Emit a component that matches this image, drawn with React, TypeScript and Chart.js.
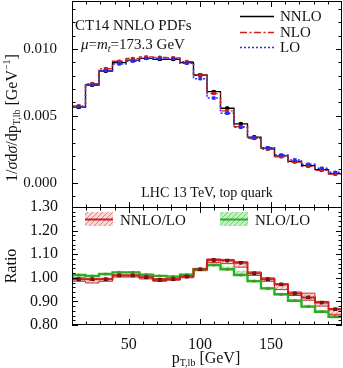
import React, { useEffect, useRef } from 'react';
import { Chart, registerables } from 'chart.js';
Chart.register(...registerables);

// ---------- data ----------
const binEdges = [10, 19.5, 29, 38.5, 48, 57.5, 67, 76.5, 86, 95.5, 105, 114.5, 124, 133.5, 143, 152.5, 162, 171.5, 181, 190.5, 200];
const nnlo = [0.00565, 0.00731, 0.00836, 0.00898, 0.00918, 0.00931, 0.00923, 0.00923, 0.00898, 0.00806, 0.00681, 0.00557, 0.0044, 0.00341, 0.00259, 0.00201, 0.00159, 0.00127, 0.00097, 0.00067];
const nlo = [0.00575, 0.00741, 0.00854, 0.00909, 0.0093, 0.00941, 0.00938, 0.00934, 0.00906, 0.00806, 0.00667, 0.00538, 0.00419, 0.0033, 0.00249, 0.00193, 0.00154, 0.00121, 0.00092, 0.00064];
const lo = [0.00568, 0.00735, 0.00841, 0.00889, 0.00909, 0.00929, 0.00931, 0.00929, 0.00894, 0.00778, 0.00633, 0.00519, 0.00414, 0.00335, 0.00261, 0.00207, 0.0017, 0.00138, 0.00108, 0.00077];
const ratioNNLO = [0.994, 0.994, 0.994, 1.01, 1.01, 1.002, 0.991, 0.994, 1.005, 1.036, 1.075, 1.073, 1.064, 1.019, 0.994, 0.972, 0.934, 0.917, 0.895, 0.867];
const ratioNNLOLow = [0.985, 0.978, 0.985, 1.003, 1.003, 0.995, 0.985, 0.99, 1.0, 1.03, 1.065, 1.06, 1.045, 1.01, 0.985, 0.95, 0.925, 0.905, 0.88, 0.845];
const ratioNNLOHigh = [1.0, 0.998, 0.998, 1.012, 1.012, 1.008, 0.997, 0.998, 1.01, 1.04, 1.08, 1.078, 1.068, 1.025, 1.0, 0.975, 0.94, 0.935, 0.9, 0.87];
const ratioNLO = [1.012, 1.008, 1.016, 1.023, 1.023, 1.013, 1.008, 1.005, 1.013, 1.036, 1.054, 1.036, 1.012, 0.986, 0.955, 0.93, 0.903, 0.878, 0.856, 0.835];
const ratioNLOLow = [1.005, 1.003, 1.01, 1.018, 1.018, 1.008, 1.003, 1.0, 1.008, 1.03, 1.048, 1.032, 1.008, 0.98, 0.95, 0.924, 0.897, 0.872, 0.85, 0.828];
const ratioNLOHigh = [1.016, 1.012, 1.02, 1.028, 1.028, 1.018, 1.012, 1.01, 1.018, 1.042, 1.062, 1.048, 1.03, 0.992, 0.962, 0.936, 0.91, 0.886, 0.864, 0.842];
const topYTicks = [0, 0.005, 0.01];
const ratioYTicks = [0.8, 0.9, 1.0, 1.1, 1.2, 1.3];
const xTicks = [50, 100, 150];
const xMinorTicks = [20, 30, 40, 60, 70, 80, 90, 110, 120, 130, 140, 160, 170, 180, 190];
const topYMinor = [-0.001, 0.001, 0.002, 0.003, 0.004, 0.006, 0.007, 0.008, 0.009, 0.011, 0.012, 0.013];
const ratioYMinor = [0.82, 0.84, 0.86, 0.88, 0.92, 0.94, 0.96, 0.98, 1.02, 1.04, 1.06, 1.08, 1.12, 1.14, 1.16, 1.18, 1.22, 1.24, 1.26, 1.28];

const SERIF = '"Liberation Serif", "DejaVu Serif", serif';
const RED = '#cc2020';
const GREEN = '#22b422';
const BLUE = '#2a2aff';

function steps(vals: number[]) {
  return binEdges.map((e, i) => ({ x: e, y: vals[Math.min(i, vals.length - 1)] }));
}

type Seg = { t: string; it?: boolean; size?: number; dy?: number };
function drawRich(ctx: CanvasRenderingContext2D, x: number, y: number, segs: Seg[], base: number, align: 'left' | 'center') {
  const widths = segs.map((s) => {
    ctx.font = `${s.it ? 'italic ' : ''}${s.size || base}px ${SERIF}`;
    return ctx.measureText(s.t).width;
  });
  const total = widths.reduce((a, b) => a + b, 0);
  let cx = align === 'center' ? x - total / 2 : x;
  ctx.textAlign = 'left';
  ctx.textBaseline = 'alphabetic';
  segs.forEach((s, i) => {
    ctx.font = `${s.it ? 'italic ' : ''}${s.size || base}px ${SERIF}`;
    ctx.fillText(s.t, cx, y + (s.dy || 0));
    cx += widths[i];
  });
}

function drawFrameTicks(chart: any, yMajor: number[], yMinor: number[]) {
  const { ctx, chartArea: a, scales } = chart;
  const xs = scales.x, ys = scales.y;
  ctx.save();
  ctx.strokeStyle = '#000';
  ctx.lineWidth = 1;
  ctx.strokeRect(a.left + 0.5, a.top + 0.5, a.right - a.left - 1, a.bottom - a.top - 1);
  ctx.beginPath();
  const xt = (v: number, len: number) => {
    const px = Math.round(xs.getPixelForValue(v)) + 0.5;
    ctx.moveTo(px, a.bottom); ctx.lineTo(px, a.bottom - len);
    ctx.moveTo(px, a.top); ctx.lineTo(px, a.top + len);
  };
  const yt = (v: number, len: number) => {
    const py = Math.round(ys.getPixelForValue(v)) + 0.5;
    ctx.moveTo(a.left, py); ctx.lineTo(a.left + len, py);
    ctx.moveTo(a.right, py); ctx.lineTo(a.right - len, py);
  };
  xTicks.forEach((v) => xt(v, 6));
  xMinorTicks.forEach((v) => xt(v, 3.5));
  yMajor.forEach((v) => yt(v, 6));
  yMinor.forEach((v) => yt(v, 3.5));
  ctx.stroke();
  ctx.restore();
}

function drawMarkers(chart: any, vals: number[], err: number, color: string, barColor: string, r: number) {
  const { ctx, scales } = chart;
  const xs = scales.x, ys = scales.y;
  ctx.save();
  vals.forEach((v, i) => {
    const cx = xs.getPixelForValue((binEdges[i] + binEdges[i + 1]) / 2);
    const y0 = ys.getPixelForValue(v - err), y1 = ys.getPixelForValue(v + err), yc = ys.getPixelForValue(v);
    ctx.strokeStyle = barColor;
    ctx.lineWidth = 1;
    ctx.beginPath();
    ctx.moveTo(cx, y0); ctx.lineTo(cx, y1);
    ctx.moveTo(cx - 2, y0); ctx.lineTo(cx + 2, y0);
    ctx.moveTo(cx - 2, y1); ctx.lineTo(cx + 2, y1);
    ctx.stroke();
    ctx.fillStyle = color;
    ctx.beginPath();
    ctx.arc(cx, yc, r, 0, Math.PI * 2);
    ctx.fill();
  });
  ctx.restore();
}

function hatch(ctx: CanvasRenderingContext2D, color: string) {
  const c = document.createElement('canvas');
  c.width = 5; c.height = 5;
  const g = c.getContext('2d')!;
  g.strokeStyle = color;
  g.lineWidth = 1;
  g.beginPath();
  g.moveTo(0, 5); g.lineTo(5, 0);
  g.moveTo(-1, 1); g.lineTo(1, -1);
  g.moveTo(4, 6); g.lineTo(6, 4);
  g.stroke();
  return ctx.createPattern(c, 'repeat')!;
}

const topPlugin = {
  id: 'topDeco',
  afterDatasetsDraw(chart: any) {
    drawMarkers(chart, nnlo, 0.00008, '#000', '#000', 2);
    drawMarkers(chart, nlo, 0.00007, RED, RED, 1.8);
    drawMarkers(chart, lo, 0.00007, BLUE, BLUE, 1.8);
  },
  afterDraw(chart: any) {
    const ctx = chart.ctx as CanvasRenderingContext2D;
    drawFrameTicks(chart, topYTicks, topYMinor);
    ctx.save();
    ctx.fillStyle = '#111';
    drawRich(ctx, 75, 30, [{ t: 'CT14 NNLO PDFs' }], 15, 'left');
    drawRich(ctx, 81, 49, [{ t: 'μ', it: true }, { t: '=' }, { t: 'm', it: true }, { t: 't', it: true, size: 10, dy: 3 }, { t: '=173.3 GeV' }], 15, 'left');
    drawRich(ctx, 207, 197, [{ t: 'LHC 13 TeV, top quark' }], 14, 'center');
    // legend
    const items = [
      { y: 16, label: 'NNLO', color: '#000', dash: [] as number[], w: 1.4 },
      { y: 32, label: 'NLO', color: RED, dash: [7, 2.5, 2, 2.5], w: 1.4 },
      { y: 47, label: 'LO', color: BLUE, dash: [2, 2], w: 1.6 },
    ];
    items.forEach((it) => {
      ctx.strokeStyle = it.color;
      ctx.lineWidth = it.w;
      ctx.setLineDash(it.dash);
      ctx.beginPath();
      ctx.moveTo(240, it.y + 0.5); ctx.lineTo(274, it.y + 0.5);
      ctx.stroke();
      ctx.setLineDash([]);
      drawRich(ctx, 280, it.y + 5, [{ t: it.label }], 15, 'left');
    });
    // y title
    ctx.translate(17, 118);
    ctx.rotate(-Math.PI / 2);
    drawRich(ctx, 0, 0, [
      { t: '1/' }, { t: 'σ', it: true }, { t: 'd' }, { t: 'σ', it: true }, { t: '/dp' },
      { t: 'T,lb', size: 10, dy: 3 }, { t: ' [GeV' }, { t: '−1', size: 10, dy: -7 }, { t: ']' },
    ], 16, 'center');
    ctx.restore();
  },
};

const botPlugin = {
  id: 'botDeco',
  beforeDatasetsDraw(chart: any) {
    const { ctx, chartArea: a, scales } = chart;
    const xs = scales.x, ys = scales.y;
    ctx.save();
    ctx.beginPath();
    ctx.rect(a.left, a.top, a.right - a.left, a.bottom - a.top);
    ctx.clip();
    const gHatch = hatch(ctx, 'rgba(60,190,60,0.55)');
    const rHatch = hatch(ctx, 'rgba(220,70,70,0.55)');
    for (let i = 0; i < ratioNLO.length; i++) {
      const x1 = xs.getPixelForValue(binEdges[i]), x2 = xs.getPixelForValue(binEdges[i + 1]);
      let y1 = ys.getPixelForValue(ratioNLOHigh[i]), y2 = ys.getPixelForValue(ratioNLOLow[i]);
      ctx.fillStyle = 'rgba(150,225,150,0.55)';
      ctx.fillRect(x1, y1, x2 - x1, y2 - y1);
      ctx.fillStyle = gHatch;
      ctx.fillRect(x1, y1, x2 - x1, y2 - y1);
      y1 = ys.getPixelForValue(ratioNNLOHigh[i]); y2 = ys.getPixelForValue(ratioNNLOLow[i]);
      ctx.fillStyle = 'rgba(240,170,170,0.45)';
      ctx.fillRect(x1, y1, x2 - x1, y2 - y1);
      ctx.fillStyle = rHatch;
      ctx.fillRect(x1, y1, x2 - x1, y2 - y1);
    }
    ctx.restore();
  },
  afterDatasetsDraw(chart: any) {
    drawMarkers(chart, ratioNLO, 0.002, '#5a8a2a', '#5a8a2a', 1.5);
    drawMarkers(chart, ratioNNLO, 0.005, '#8a1010', '#000', 1.8);
  },
  afterDraw(chart: any) {
    const ctx = chart.ctx as CanvasRenderingContext2D;
    drawFrameTicks(chart, ratioYTicks, ratioYMinor);
    ctx.save();
    // legend
    const leg = [
      { x: 85, label: 'NNLO/LO', color: RED, fill: 'rgba(240,170,170,0.45)', h: 'rgba(220,70,70,0.6)' },
      { x: 220, label: 'NLO/LO', color: GREEN, fill: 'rgba(150,225,150,0.55)', h: 'rgba(60,190,60,0.6)' },
    ];
    leg.forEach((l) => {
      ctx.fillStyle = l.fill;
      ctx.fillRect(l.x, 12, 28, 14);
      ctx.fillStyle = hatch(ctx, l.h);
      ctx.fillRect(l.x, 12, 28, 14);
      ctx.strokeStyle = l.color;
      ctx.lineWidth = 2;
      ctx.beginPath();
      ctx.moveTo(l.x, 19.5); ctx.lineTo(l.x + 28, 19.5);
      ctx.stroke();
      ctx.fillStyle = '#111';
      drawRich(ctx, l.x + 35, 25, [{ t: l.label }], 15, 'left');
    });
    ctx.fillStyle = '#111';
    drawRich(ctx, 206, 163, [{ t: 'p' }, { t: 'T,lb', size: 10, dy: 3 }, { t: ' [GeV]' }], 16, 'center');
    ctx.translate(16, 66);
    ctx.rotate(-Math.PI / 2);
    drawRich(ctx, 0, 0, [{ t: 'Ratio' }], 16, 'center');
    ctx.restore();
  },
};

export default function App() {
  const topRef = useRef<HTMLCanvasElement>(null);
  const botRef = useRef<HTMLCanvasElement>(null);
  useEffect(() => {
    const zeroPad = (s: any) => { s.paddingTop = 0; s.paddingBottom = 0; s.paddingLeft = 0; s.paddingRight = 0; };
    const top = new Chart(topRef.current!, {
      type: 'line',
      data: {
        datasets: [
          { label: 'NLO', data: steps(nlo), stepped: 'before', borderColor: RED, borderWidth: 1.3, borderDash: [7, 2.5, 2, 2.5], pointRadius: 0, fill: false },
          { label: 'LO', data: steps(lo), stepped: 'before', borderColor: BLUE, borderWidth: 1.5, borderDash: [2, 2], pointRadius: 0, fill: false },
          { label: 'NNLO', data: steps(nnlo), stepped: 'before', borderColor: '#000', borderWidth: 1.3, pointRadius: 0, fill: false },
        ],
      },
      options: {
        animation: false,
        responsive: false,
        maintainAspectRatio: false,
        layout: { padding: { top: 1, right: 1, bottom: 0, left: 0 } },
        plugins: { legend: { display: false }, tooltip: { enabled: false } },
        scales: {
          x: { type: 'linear', min: 10, max: 200, display: false },
          y: {
            type: 'linear', min: -0.0019, max: 0.0136,
            grid: { display: false }, border: { display: false },
            afterFit: (s: any) => { s.width = 72; zeroPad(s); },
            afterBuildTicks: (s: any) => { s.ticks = topYTicks.map((v) => ({ value: v })); },
            ticks: { padding: 7, color: '#111', font: { family: SERIF, size: 15 }, callback: (v: any) => Number(v).toFixed(3) },
          },
        },
      } as any,
      plugins: [topPlugin],
    });
    const bot = new Chart(botRef.current!, {
      type: 'line',
      data: {
        datasets: [
          { label: 'NNLO/LO', data: steps(ratioNNLO), stepped: 'before', borderColor: RED, borderWidth: 2, pointRadius: 0, fill: false },
          { label: 'NLO/LO', data: steps(ratioNLO), stepped: 'before', borderColor: GREEN, borderWidth: 2.4, pointRadius: 0, fill: false },
          { label: 'lowR', data: steps(ratioNNLOLow), stepped: 'before', borderColor: '#d03030', borderWidth: 1, pointRadius: 0, fill: false },
          { label: 'highR', data: steps(ratioNNLOHigh), stepped: 'before', borderColor: '#d03030', borderWidth: 1, pointRadius: 0, fill: false },
        ],
      },
      options: {
        animation: false,
        responsive: false,
        maintainAspectRatio: false,
        layout: { padding: { top: 7, right: 1, bottom: 0, left: 0 } },
        plugins: { legend: { display: false }, tooltip: { enabled: false } },
        scales: {
          x: {
            type: 'linear', min: 10, max: 200, position: 'bottom',
            grid: { display: false }, border: { display: false },
            afterFit: (s: any) => { s.height = 43; zeroPad(s); },
            afterBuildTicks: (s: any) => { s.ticks = xTicks.map((v) => ({ value: v })); },
            ticks: { padding: 2, maxRotation: 0, color: '#111', font: { family: SERIF, size: 16 } },
          },
          y: {
            type: 'linear', min: 0.8, max: 1.3,
            grid: { display: false }, border: { display: false },
            afterFit: (s: any) => { s.width = 72; zeroPad(s); },
            afterBuildTicks: (s: any) => { s.ticks = ratioYTicks.map((v) => ({ value: v })); },
            ticks: { padding: 6, color: '#111', font: { family: SERIF, size: 16 }, callback: (v: any) => Number(v).toFixed(2) },
          },
        },
      } as any,
      plugins: [botPlugin],
    });
    return () => { top.destroy(); bot.destroy(); };
  }, []);
  return (
    <div style={{ position: 'absolute', left: 0, top: 0, width: 343, height: 368, background: '#fff' }}>
      <canvas ref={topRef} width={343} height={208} style={{ position: 'absolute', left: 0, top: 0 }} />
      <canvas ref={botRef} width={343} height={168} style={{ position: 'absolute', left: 0, top: 200 }} />
    </div>
  );
}
